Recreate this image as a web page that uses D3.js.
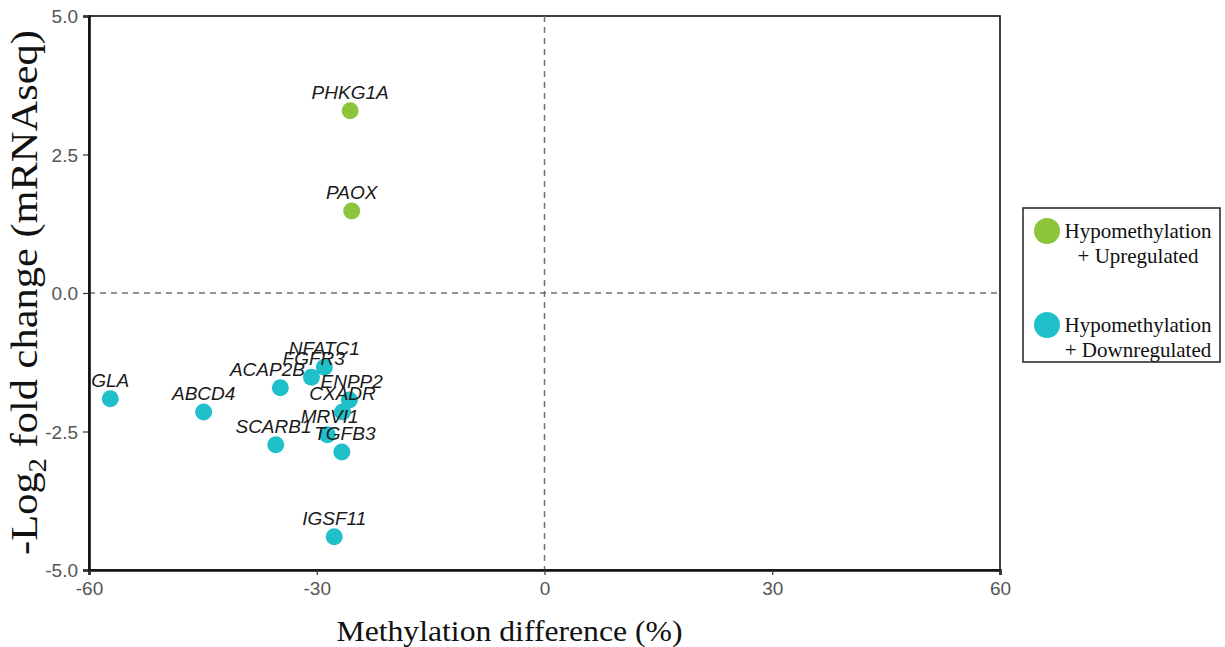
<!DOCTYPE html>
<html>
<head>
<meta charset="utf-8">
<script src="https://cdn.jsdelivr.net/npm/d3@7"></script>
<style>
  html, body { margin: 0; padding: 0; background: #fff; }
  svg { display: block; }
</style>
</head>
<body>
<svg id="chart" width="1225" height="647"></svg>
<script>
// ---- data ----
const genes    = ["PHKG1A", "PAOX", "GLA", "ABCD4", "ACAP2B", "FGFR3", "NFATC1", "ENPP2", "CXADR", "MRVI1", "TGFB3", "SCARB1", "IGSF11"];
const methDiff = [-25.6, -25.4, -57.2, -44.9, -34.8, -30.7, -29.0, -25.7, -26.6, -28.6, -26.7, -35.4, -27.7];
const logFC    = [3.29, 1.48, -1.91, -2.15, -1.71, -1.52, -1.34, -1.93, -2.15, -2.56, -2.87, -2.74, -4.40];
const groups   = ["up", "up", "down", "down", "down", "down", "down", "down", "down", "down", "down", "down", "down"];
const labelNudgeX = [0, 0, 0, 0, -1.7, 0.3, 0, 0.3, 0, 0.3, 0.4, -0.3, 0];
const xTicks = [-60, -30, 0, 30, 60];
const yTicks = [-5, -2.5, 0, 2.5, 5];
const legendKeys  = ["up", "down"];
const legendLines = [["Hypomethylation", "+ Upregulated"], ["Hypomethylation", "+ Downregulated"]];

// ---- layout ----
const svg = d3.select("#chart");
const L = 89, R = 1000, T = 16, B = 570;
const x = d3.scaleLinear().domain([-60, 60]).range([L, R]);
const y = d3.scaleLinear().domain([-5, 5]).range([B, T]);
const color = d3.scaleOrdinal().domain(["up", "down"]).range(["#8cc43c", "#1fc0c9"]);

// panel border
svg.append("rect").attr("x", L).attr("y", T).attr("width", R - L).attr("height", B - T)
  .attr("fill", "none").attr("stroke", "#111").attr("stroke-width", 1.6);

// zero lines
svg.append("line").attr("x1", L).attr("x2", R).attr("y1", y(0)).attr("y2", y(0))
  .attr("stroke", "#707070").attr("stroke-width", 1.5).attr("stroke-dasharray", "6,5");
svg.append("line").attr("x1", x(0)).attr("x2", x(0)).attr("y1", T).attr("y2", B)
  .attr("stroke", "#707070").attr("stroke-width", 1.5).attr("stroke-dasharray", "6,5");

// axes
const yAxis = svg.append("g").attr("transform", `translate(${L},0)`)
  .call(d3.axisLeft(y).tickValues(yTicks).tickFormat(d => d.toFixed(1)).tickSize(6).tickPadding(5));
const xAxis = svg.append("g").attr("transform", `translate(0,${B})`)
  .call(d3.axisBottom(x).tickValues(xTicks).tickFormat(d => String(d)).tickSize(5).tickPadding(7));
[xAxis, yAxis].forEach(g => {
  g.attr("font-size", null).attr("font-family", null);
  g.select(".domain").attr("stroke", "#111").attr("stroke-width", 2.6);
  g.selectAll(".tick line").attr("stroke", "#333").attr("stroke-width", 1.2);
  g.selectAll(".tick text").attr("fill", "#555")
    .style("font-family", "'Liberation Sans', Arial, sans-serif").style("font-size", "19px");
});
yAxis.selectAll(".tick text").attr("dy", "0.36em");

// points
svg.append("g").selectAll("circle").data(genes).join("circle")
  .attr("cx", (d, i) => x(methDiff[i]))
  .attr("cy", (d, i) => y(logFC[i]))
  .attr("r", 8.5)
  .attr("fill", (d, i) => color(groups[i]));

// labels
svg.append("g").selectAll("text").data(genes).join("text")
  .attr("x", (d, i) => x(methDiff[i] + labelNudgeX[i]))
  .attr("y", (d, i) => y(logFC[i]) - 12)
  .attr("text-anchor", "middle")
  .style("font-family", "'Liberation Sans', Arial, sans-serif")
  .style("font-style", "italic")
  .style("font-size", "19px")
  .attr("fill", "#1a1a1a")
  .text(d => d);

// axis titles
svg.append("text").attr("x", (L + R) / 2 - 35).attr("y", 641)
  .attr("text-anchor", "middle")
  .style("font-family", "'Liberation Serif', 'Times New Roman', serif")
  .style("font-size", "29px").attr("fill", "#111")
  .attr("textLength", 346).attr("lengthAdjust", "spacingAndGlyphs")
  .text("Methylation difference (%)");

const ytg = svg.append("g").attr("transform", `translate(37,${(30 + 555) / 2}) rotate(-90)`);
const yt = ytg.append("text")
  .attr("text-anchor", "middle")
  .style("font-family", "'Liberation Serif', 'Times New Roman', serif")
  .style("font-size", "37px").attr("fill", "#111");
yt.append("tspan").text("-Log");
yt.append("tspan").style("font-size", "25px").attr("dy", 9).text("2");
yt.append("tspan").attr("dy", -9).text(" fold change (mRNAseq)");
const ytLen = yt.node().getBBox().width;
yt.attr("transform", `scale(${525 / ytLen},1)`);

// legend
const lg = svg.append("g");
lg.append("rect").attr("x", 1023).attr("y", 208).attr("width", 197).attr("height", 154)
  .attr("fill", "#fff").attr("stroke", "#222").attr("stroke-width", 1.5);
legendKeys.forEach((k, i) => {
  const cy = 231 + i * 94;
  lg.append("circle").attr("cx", 1047).attr("cy", cy).attr("r", 13).attr("fill", color(k));
  legendLines[i].forEach((t, j) => {
    lg.append("text").attr("x", 1138).attr("y", cy + 7 + j * 25)
      .attr("text-anchor", "middle")
      .style("font-family", "'Liberation Serif', 'Times New Roman', serif")
      .style("font-size", "21px").attr("fill", "#111")
      .text(t);
  });
});
</script>
</body>
</html>
